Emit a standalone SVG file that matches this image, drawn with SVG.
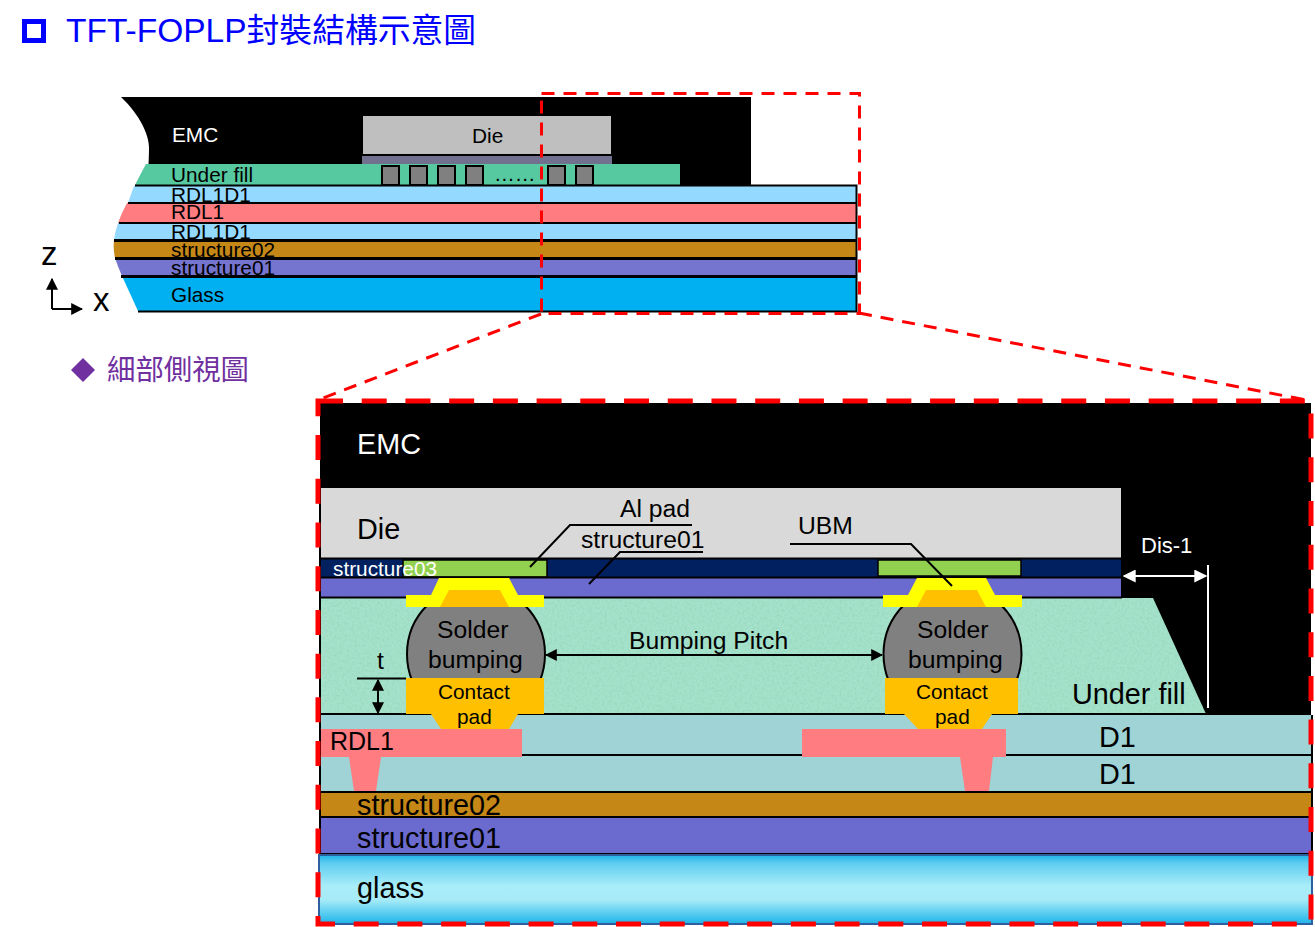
<svg xmlns="http://www.w3.org/2000/svg" width="1315" height="927" viewBox="0 0 1315 927">
<style>
text{font-family:"Liberation Sans","Noto Sans CJK TC",sans-serif;fill:#000}
.w{fill:#fff}
.s20{font-size:20.8px}.s24{font-size:24.7px}.s29{font-size:28.8px}
.ln{fill:none;stroke:#000;stroke-width:2}
.red1{fill:none;stroke:#f00;stroke-width:3;stroke-dasharray:13 9}
.red2{fill:none;stroke:#f00;stroke-width:5;stroke-dasharray:25 18.72}
.bump{fill:#808080;stroke:#000;stroke-width:2}
</style>
<defs>
<marker id="ab" viewBox="0 0 10 10" refX="9" refY="5" markerWidth="12" markerHeight="12" markerUnits="userSpaceOnUse" orient="auto-start-reverse"><path d="M0 0L10 5L0 10z" fill="#000"/></marker>
<marker id="aw" viewBox="0 0 10 10" refX="9" refY="5" markerWidth="13" markerHeight="13" markerUnits="userSpaceOnUse" orient="auto-start-reverse"><path d="M0 0L10 5L0 10z" fill="#fff"/></marker>
<linearGradient id="gl" x1="0" y1="0" x2="0" y2="1"><stop offset="0" stop-color="#1db4ea"/><stop offset=".12" stop-color="#5fcdf0"/><stop offset=".45" stop-color="#a9edf8"/><stop offset=".65" stop-color="#a6ebf7"/><stop offset="1" stop-color="#1db4ea"/></linearGradient>
<filter id="noise" x="0" y="0" width="100%" height="100%" color-interpolation-filters="sRGB"><feTurbulence type="fractalNoise" baseFrequency=".4" numOctaves="2" seed="3" result="n"/><feColorMatrix in="n" type="matrix" values="0 0 0 0 .58 0 0 0 0 .82 0 0 0 0 .72 1.4 0 0 0 -.6" result="c"/><feComposite in="c" in2="SourceGraphic" operator="in" result="d"/><feMerge><feMergeNode in="SourceGraphic"/><feMergeNode in="d"/></feMerge></filter>
</defs>

<g id="title">
<rect x="24.500" y="21.500" width="19" height="19" fill="#fff" stroke="#00f" stroke-width="5"/>
<text x="66" y="42" style="fill:#00f;font-size:32.8px"><tspan style="font-size:33.5px">TFT-FOPLP</tspan>封裝結構示意圖</text>
</g>

<g id="top-emc"><path d="M121 97H751V187H146C148 175 149 160 149 147C149 135 140 115 121 97z" fill="#000"/><text x="172" y="142" class="s20 w">EMC</text></g>
<g id="top-die"><rect x="363" y="116" width="248" height="38" fill="#bfbfbf"/><rect x="362" y="156" width="250" height="9" fill="#71718f"/><text x="472" y="143" class="s20">Die</text></g>
<g id="top-underfill"><path d="M146 164H680V185H135Q140 175 146 164z" fill="#57c9a0"/>
<rect x="382" y="166" width="17" height="19" class="bump"/><rect x="410" y="166" width="17" height="19" class="bump"/><rect x="438" y="166" width="17" height="19" class="bump"/><rect x="466" y="166" width="17" height="19" class="bump"/><rect x="548" y="166" width="17" height="19" class="bump"/><rect x="576" y="166" width="17" height="19" class="bump"/>
<text x="494" y="181" class="s20">……</text><text x="171" y="182" class="s20">Under fill</text></g>
<g id="top-rdl1d1-upper"><path d="M134 186H856V203H128Q131 194 134 186z" fill="#94d9ff"/><text x="171" y="202" class="s20">RDL1D1</text></g>
<g id="top-rdl1"><path d="M127 203H856V223H118Q122 212 127 203z" fill="#ff7c80"/><text x="171" y="219" class="s20">RDL1</text></g>
<g id="top-rdl1d1-lower"><path d="M118 223H856V240H114Q115 232 118 223z" fill="#94d9ff"/><text x="171" y="239" class="s20">RDL1D1</text></g>
<g id="top-structure02"><path d="M114 240H856V258H115Q113 249 114 240z" fill="#c58817"/><text x="171" y="257" class="s20">structure02</text></g>
<g id="top-structure01"><path d="M115 258H856V276H122Q118 267 115 258z" fill="#7575cf"/><text x="171" y="275" class="s20">structure01</text></g>
<g id="top-glass"><path d="M122 276H856V311H138z" fill="#00b0f0"/><text x="171" y="302" class="s20">Glass</text></g>
<g id="top-lines">
<path d="M135 185.500H856.500V311.500H138M128 203H856M119 223H856" class="ln"/>
<path d="M114 240.500H856M115 258.500H856M121 276.500H856" fill="none" stroke="#000" stroke-width="3"/>
<path d="M362 155H611" class="ln"/>
</g>

<g id="axes">
<text x="41" y="265" style="font-size:33px">z</text><text x="93" y="311" style="font-size:33px">x</text>
</g>

<g id="subtitle">
<path d="M83 358L95 370L83 382L71 370z" fill="#7030a0"/>
<text x="107" y="380" style="font-size:28.4px;fill:#7030a0">細部側視圖</text>
</g>

<g id="detail-emc"><rect x="320" y="403" width="991" height="312" fill="#000"/><text x="357" y="454" class="s29 w">EMC</text></g>
<g id="detail-die"><rect x="320" y="488" width="801" height="70" fill="#d9d9d9"/><text x="357" y="539" class="s29">Die</text></g>
<g id="detail-structure03"><rect x="320" y="559" width="801" height="18" fill="#002060"/></g>
<g id="detail-alpad-left"><rect x="403" y="560" width="144" height="17" fill="#92d050" stroke="#000" stroke-width="1.500"/></g>
<g id="detail-alpad-right"><rect x="878" y="560" width="143" height="16" fill="#92d050" stroke="#000" stroke-width="1.500"/></g>
<g id="detail-structure01-upper"><rect x="320" y="578" width="801" height="19" fill="#6b6bcf"/></g>
<g id="detail-underfill"><path d="M320 598H1153L1206 714H320z" fill="#a5e2cb" filter="url(#noise)"/><text x="1072" y="704" class="s29">Under fill</text></g>
<g id="detail-d1"><rect x="320" y="715" width="991" height="76" fill="#9fd3d6"/><text x="1099" y="747" class="s29">D1</text><text x="1099" y="784" class="s29">D1</text></g>

<g id="detail-lines">
<path d="M320 558.500H1121M320 577.500H1121M320 597.500H1122M320 714H1206M320 755H1311M320 792H1311M320 817H1311M320 854H1311" class="ln"/>
</g>

<g id="bump-left">
<circle cx="476" cy="654" r="69" fill="#808080" stroke="#000" stroke-width="2"/>
<path d="M406 678H544V714H518L509 729H441L431 714H406z" fill="#ffc000"/>
<path d="M439 578H509L518 595H544V607H406V595H431z" fill="#ff0"/>
<path d="M449 590H500L509 607H440z" fill="#ffc000"/>
<text x="437" y="638" class="s24">Solder</text><text x="428" y="668" class="s24">bumping</text>
<text x="438" y="699" class="s20">Contact</text><text x="457" y="724" class="s20">pad</text>
</g>
<g id="bump-right">
<circle cx="952.500" cy="654" r="69" fill="#808080" stroke="#000" stroke-width="2"/>
<path d="M885 678H1018V714H992L982 729H918L904 714H885z" fill="#ffc000"/>
<path d="M917 578H986L995 595H1022V607H883V595H908z" fill="#ff0"/>
<path d="M926 590H977L986 607H917z" fill="#ffc000"/>
<text x="917" y="638" class="s24">Solder</text><text x="908" y="668" class="s24">bumping</text>
<text x="916" y="699" class="s20">Contact</text><text x="935" y="724" class="s20">pad</text>
</g>

<g id="detail-rdl1-left"><path d="M320 729H522V757H381L376 791H354L349 757H320z" fill="#ff7c80"/><text x="330" y="750" style="font-size:25px">RDL1</text></g>
<g id="detail-rdl1-right"><path d="M802 729H1006V757H993L989 791H965L960 757H802z" fill="#ff7c80"/></g>
<g id="detail-structure02"><rect x="320" y="793" width="991" height="23" fill="#c58817"/><text x="357" y="815" class="s29">structure02</text></g>
<g id="detail-structure01"><rect x="320" y="818" width="991" height="35" fill="#6b6bcf"/><text x="357" y="848" class="s29">structure01</text></g>
<g id="detail-glass"><rect x="319" y="855" width="993" height="69" fill="url(#gl)" stroke="#2f5f9f" stroke-width="2"/><text x="357" y="898" class="s29">glass</text></g>
<path id="detail-edge" d="M320 488V854M1312 715V854" class="ln"/>

<g id="labels">
<text x="620" y="517" class="s24">Al pad</text>
<text x="581" y="548" class="s24">structure01</text>
<text x="798" y="534" class="s24">UBM</text>
<text x="333" y="576" class="s20 w">structure03</text>
<text x="629" y="649" class="s24">Bumping Pitch</text>
<text x="377" y="669" class="s24">t</text>
<text x="1141" y="553" style="font-size:22px" class="w">Dis-1</text>
</g>

<g id="connectors">
<path d="M52 309V279" class="ln" marker-end="url(#ab)"/>
<path d="M52 309H82" class="ln" marker-end="url(#ab)"/>
<path d="M692 525H570L530 567" class="ln"/>
<path d="M703 552H620L589 584" class="ln"/>
<path d="M790 544H911L952 586" class="ln"/>
<path d="M546 655H882" class="ln" marker-start="url(#ab)" marker-end="url(#ab)"/>
<path d="M357 678.500H406" class="ln"/>
<path d="M378 680V713" class="ln" marker-start="url(#ab)" marker-end="url(#ab)"/>
<path d="M1124 576H1206" fill="none" stroke="#fff" stroke-width="2" marker-start="url(#aw)" marker-end="url(#aw)"/>
<path d="M1208 565V708" fill="none" stroke="#fff" stroke-width="2"/>
<rect x="541.500" y="93.500" width="318" height="220" class="red1"/>
<path d="M541 314L318 400M859 313L1311 401" class="red1"/>
<rect x="318" y="401" width="993" height="523" class="red2"/>
</g>
</svg>
